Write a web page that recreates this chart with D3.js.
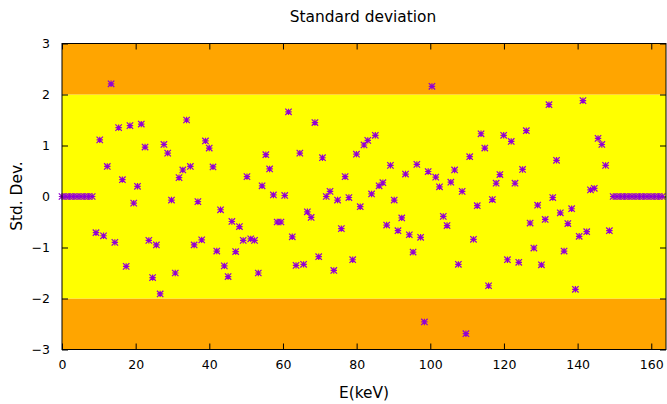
<!DOCTYPE html>
<html>
<head>
<meta charset="utf-8">
<script src="https://cdn.jsdelivr.net/npm/d3@7"></script>
<style>
  html, body { margin: 0; padding: 0; background: #fff; }
  svg { display: block; font-family: "DejaVu Sans", sans-serif; }
</style>
</head>
<body>
<svg id="chart" width="667" height="404"></svg>
<script>
// ---- data ----
const title = "Standard deviation";
const xLabel = "E(keV)";
const yLabel = "Std. Dev.";
const xTicks = [0, 20, 40, 60, 80, 100, 120, 140, 160];
const yTicks = [-3, -2, -1, 0, 1, 2, 3];
const channelWidth = 1.025; // keV per channel
const stdDev = [
  0, 0, 0, 0, 0, 0, 0, 0, 0,
  -0.71, 1.11, -0.77, 0.59, 2.21, -0.90, 1.35, 0.33, -1.37, 1.39,
  -0.13, 0.20, 1.42, 0.97, -0.86, -1.59, -0.95, -1.91, 1.02, 0.85,
  -0.07, -1.50, 0.37, 0.52, 1.50, 0.59, -0.95, -0.10, -0.85, 1.09,
  0.95, 0.58, -1.07, -0.26, -1.36, -1.57, -0.49, -1.08, -0.59, -0.86,
  0.39, -0.83, -0.86, -1.50, 0.21, 0.82, 0.54, 0.03, -0.50, -0.50,
  0.02, 1.66, -0.79, -1.35, 0.85, -1.33, -0.30, -0.41, 1.45, -1.18,
  0.76, 0.00, 0.10, -1.45, -0.07, -0.63, 0.39, -0.02, -1.24, 0.83,
  -0.20, 1.01, 1.10, 0.05, 1.20, 0.21, 0.27, -0.56, 0.61, -0.07,
  -0.67, -0.42, 0.44, -0.75, -1.09, 0.63, -0.80, -2.46, 0.49, 2.16,
  0.38, 0.19, -0.39, -0.57, 0.28, 0.52, -1.33, 0.10, -2.69, 0.78,
  -0.84, -0.18, 1.23, 0.95, -1.75, -0.06, 0.26, 0.43, 1.20, -1.24,
  1.08, 0.26, -1.29, 0.53, 1.29, -0.52, -1.01, -0.17, -1.34, -0.45,
  1.80, -0.02, 0.71, -0.32, -1.07, -0.53, -0.24, -1.82, -0.78, 1.88,
  -0.69, 0.13, 0.16, 1.14, 1.02, 0.61, -0.67,
  0, 0, 0, 0, 0, 0, 0, 0, 0, 0, 0, 0, 0, 0
];
const bandLow = [-3, -2, 2];
const bandHigh = [-2, 2, 3];
const bandColor = ["#ffa500", "#ffff00", "#ffa500"];

// ---- layout ----
const svg = d3.select("#chart");
const L = 62, R = 666, T = 43.5, B = 349.5;
const x = d3.scaleLinear().domain([0, 164]).range([L, R]);
const y = d3.scaleLinear().domain([-3, 3]).range([B, T]);

// bands
svg.append("g").selectAll("rect").data(bandLow).join("rect")
  .attr("x", L).attr("width", R - L)
  .attr("y", (d, i) => y(bandHigh[i]))
  .attr("height", (d, i) => y(d) - y(bandHigh[i]))
  .attr("fill", (d, i) => bandColor[i]);

// axes (gnuplot-style inward ticks, mirrored)
const tickLen = 6;
const axFont = "12.5px";
const gB = svg.append("g").attr("transform", `translate(0,${B})`)
  .call(d3.axisBottom(x).tickValues(xTicks).tickSize(-tickLen).tickPadding(11).tickFormat(d3.format("d")));
const gT = svg.append("g").attr("transform", `translate(0,${T})`)
  .call(d3.axisTop(x).tickValues(xTicks).tickSize(-tickLen).tickFormat(""));
const gL = svg.append("g").attr("transform", `translate(${L},0)`)
  .call(d3.axisLeft(y).tickValues(yTicks).tickSize(-tickLen).tickPadding(12).tickFormat(d3.format("d")));
const gR = svg.append("g").attr("transform", `translate(${R},0)`)
  .call(d3.axisRight(y).tickValues(yTicks).tickSize(-tickLen).tickFormat(""));
[gB, gT, gL, gR].forEach(g => {
  g.select(".domain").remove();
  g.selectAll(".tick line").attr("stroke", "#000").attr("stroke-width", 1);
  g.selectAll(".tick text").attr("font-size", axFont).attr("font-family", "DejaVu Sans, sans-serif").attr("fill", "#000");
});

// points (asterisk markers)
const pts = svg.append("g").selectAll("g").data(stdDev).join("g")
  .attr("transform", (d, i) => `translate(${x(i * channelWidth)},${y(d)})`);
const s = 3.2;
pts.append("path")
  .attr("d", `M${-s},0H${s}M0,${-s}V${s}M${-s},${-s}L${s},${s}M${-s},${s}L${s},${-s}`)
  .attr("stroke", "#9400d3").attr("stroke-width", 1.2).attr("fill", "none");

// frame
svg.append("rect").attr("x", L).attr("y", T).attr("width", R - L).attr("height", B - T)
  .attr("fill", "none").attr("stroke", "#000").attr("stroke-width", 1);

// titles
svg.append("text").attr("x", 363).attr("y", 22).attr("text-anchor", "middle")
  .attr("font-size", "15.4px").text(title);
svg.append("text").attr("x", 364).attr("y", 398).attr("text-anchor", "middle")
  .attr("font-size", "15.4px").text(xLabel);
svg.append("text").attr("transform", "translate(22,196) rotate(-90)").attr("text-anchor", "middle")
  .attr("font-size", "15.4px").text(yLabel);
</script>
</body>
</html>
